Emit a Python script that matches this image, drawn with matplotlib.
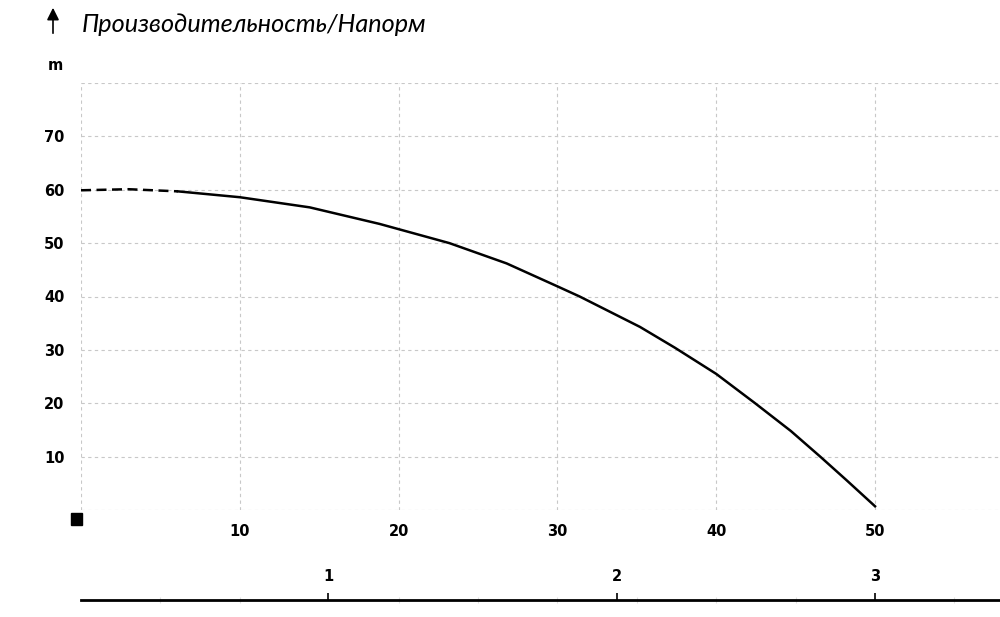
import matplotlib.pyplot as plt
from matplotlib.patches import Rectangle

plt.rcParams['font.family'] = ['DejaVu Sans']

# head curve (m) vs flow
q_dash = [0, 3, 6.1]
h_dash = [59.9, 60.1, 59.7]
q_solid = [6.1, 10, 14.4, 18.8, 23.2, 26.8, 30, 31.4, 35.2, 37.4, 40,
           42.45, 44.7, 46.55, 48.2, 50]
h_solid = [59.7, 58.6, 56.7, 53.6, 50, 46.2, 41.9, 40, 34.3, 30.4, 25.5,
           20, 14.8, 10, 5.6, 0.7]

x_ticks = [10, 20, 30, 40, 50]
y_ticks = [10, 20, 30, 40, 50, 60, 70]
# second flow scale under the chart
q2_pos = [15.56, 33.77, 50.0]
q2_labels = ['1', '2', '3']

title = 'Производительность/Напорм'

fig = plt.figure(figsize=(10, 6.17), dpi=100)
ax = fig.add_axes([0.081, 107 / 617, 0.919, 427 / 617])

ax.plot(q_dash, h_dash, color='black', lw=1.8, ls=(0, (4, 2.2)), clip_on=False)
ax.plot(q_solid, h_solid, color='black', lw=1.8, clip_on=False,
        solid_joinstyle='round')

ax.set_xlim(0, 57.87)
ax.set_ylim(0, 80)
ax.set_xticks([0] + x_ticks)
ax.set_xticklabels([''] + [str(v) for v in x_ticks])
ax.set_yticks([0] + y_ticks + [80])
ax.set_yticklabels([''] + [str(v) for v in y_ticks] + [''])
ax.grid(True, color='#c8c8c8', ls=(0, (3, 3)), lw=0.8)
for s in ax.spines.values():
    s.set_visible(False)
ax.tick_params(length=0, labelsize=10.5)
ax.tick_params(axis='y', pad=12)
ax.tick_params(axis='x', pad=10)
for lab in ax.get_xticklabels() + ax.get_yticklabels():
    lab.set_fontweight('bold')

# second scale
ax2 = fig.add_axes([0.081, 17 / 617, 0.919, 0.0005])
ax2.set_xlim(0, 57.87)
ax2.set_yticks([])
for k in ['left', 'right', 'bottom']:
    ax2.spines[k].set_visible(False)
ax2.spines['top'].set_linewidth(2)
ax2.xaxis.set_ticks_position('top')
ax2.set_xticks(q2_pos)
ax2.set_xticklabels(q2_labels, fontweight='bold', fontsize=10.5)
ax2.set_xticks([5, 10, 20, 25, 30, 35, 40, 45, 55], minor=True)
ax2.tick_params(which='major', direction='out', length=5, width=1.2, pad=6)
ax2.tick_params(which='minor', direction='inout', length=4, width=0.8, color='#e0e0e0')

fig.text(48 / 1000, 1 - 66 / 617, 'm', fontsize=10.5, fontweight='bold', va='center')
fig.text(82 / 1000, 1 - 25 / 617, title, fontsize=18.2, style='italic', va='center',
         family=['Lato', 'DejaVu Sans'])
ax.annotate('', xy=(53, 612), xytext=(53, 581), xycoords='figure pixels',
            textcoords='figure pixels',
            arrowprops=dict(arrowstyle='-|>', color='black', lw=1.2,
                            mutation_scale=18))
fig.patches.append(Rectangle((71, 617 - 525), 11, 12, transform=None,
                             color='black', figure=fig))

fig.savefig('out.png', dpi=100)
